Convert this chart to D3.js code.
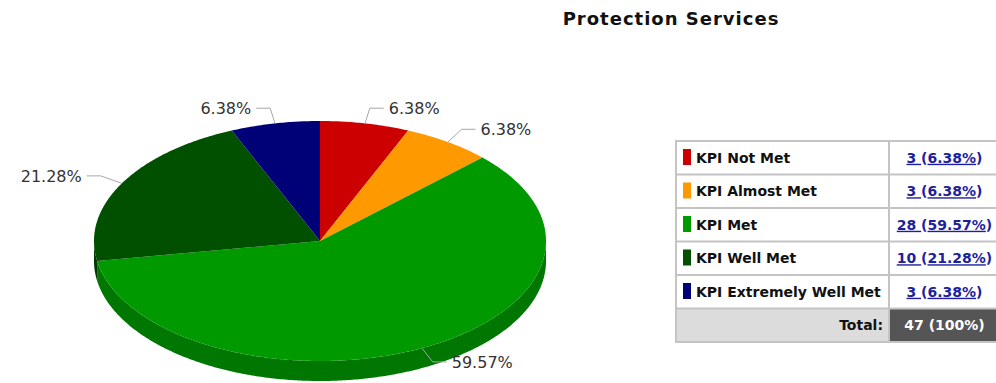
<!DOCTYPE html>
<html>
<head>
<meta charset="utf-8">
<script src="https://cdn.jsdelivr.net/npm/d3@7/dist/d3.min.js"></script>
<style>
  html, body { margin: 0; padding: 0; background: #fff; overflow: hidden; }
  svg { display: block; }
</style>
</head>
<body>
<svg id="chart" width="996" height="383"></svg>
<script>
// ---- data ----
const title = "Protection Services";
const categories = ["KPI Not Met", "KPI Almost Met", "KPI Met", "KPI Well Met", "KPI Extremely Well Met"];
const counts = [3, 3, 28, 10, 3];
const totalLabel = "Total:";

// ---- style ----
const colors = ["#cc0000", "#ff9900", "#009900", "#005000", "#000077"];
const sideColors = ["#990000", "#c07000", "#007700", "#003800", "#000050"];

const svg = d3.select("#chart");
const font = "'DejaVu Sans', Verdana, sans-serif";
const total = d3.sum(counts);
const pctText = v => (v / total * 100).toFixed(2) + "%";

// title
svg.append("text")
  .attr("x", 671).attr("y", 25)
  .attr("text-anchor", "middle")
  .attr("font-family", font).attr("font-weight", "bold")
  .attr("font-size", 18).attr("letter-spacing", 1)
  .attr("fill", "#111")
  .text(title);

// ---- pie ----
const cx = 320, cy = 241, rx = 226, ry = 120, depth = 20;
const pie = d3.pie().sort(null).value(d => d.v).startAngle(0).endAngle(2 * Math.PI);
const arcs = pie(counts.map((v, i) => ({ v, i })));
const pt = (a, dy = 0) => [cx + rx * Math.sin(a), cy - ry * Math.cos(a) + dy];
const sample = (a0, a1, dy = 0) => {
  const n = Math.max(2, Math.ceil((a1 - a0) / 0.01));
  return d3.range(n + 1).map(k => pt(a0 + (a1 - a0) * k / n, dy));
};
const line = d3.line();

const g = svg.append("g");
// sides
arcs.forEach(a => {
  const s0 = Math.max(a.startAngle, Math.PI / 2), s1 = Math.min(a.endAngle, 3 * Math.PI / 2);
  if (s1 > s0) {
    const pts = sample(s0, s1).concat(sample(s0, s1, depth).reverse());
    g.append("path").attr("d", line(pts) + "Z").attr("fill", sideColors[a.data.i]);
  }
});
// tops
arcs.forEach(a => {
  const pts = [[cx, cy]].concat(sample(a.startAngle, a.endAngle));
  g.append("path").attr("d", line(pts) + "Z").attr("fill", colors[a.data.i]);
});

// labels
arcs.forEach(a => {
  const m = (a.startAngle + a.endAngle) / 2;
  const p = pt(m);
  const e = [p[0] + 24 * Math.sin(m), p[1] - 15.5 * Math.cos(m)];
  const dir = Math.sin(m) >= 0 ? 1 : -1;
  const q = [e[0] + dir * 14, e[1]];
  g.append("path").attr("d", line([p, e, q]))
    .attr("fill", "none").attr("stroke", "#a8a8a8").attr("stroke-width", 1);
  g.append("text")
    .attr("x", q[0] + dir * 5).attr("y", q[1] + 6)
    .attr("text-anchor", dir > 0 ? "start" : "end")
    .attr("font-family", font).attr("font-size", 16)
    .attr("fill", "#333")
    .text(pctText(a.data.v));
});

// ---- table legend ----
const tx0 = 676, tx1 = 889, tx2 = 1002;
const rows = categories.concat([totalLabel]);
const y = d3.scaleBand().domain(d3.range(rows.length)).range([141, 342]);
const bw = y.bandwidth();
const tg = svg.append("g");

// total row backgrounds
const lastY = y(rows.length - 1);
tg.append("rect").attr("x", tx0).attr("y", lastY).attr("width", tx1 - tx0).attr("height", bw).attr("fill", "#dcdcdc");
tg.append("rect").attr("x", tx1).attr("y", lastY).attr("width", tx2 - tx1).attr("height", bw).attr("fill", "#555555");

categories.forEach((c, i) => {
  const ry0 = y(i);
  tg.append("rect").attr("x", 683).attr("y", ry0 + 8).attr("width", 8).attr("height", 16).attr("fill", colors[i]);
  tg.append("text").attr("x", 696).attr("y", ry0 + bw / 2 + 5)
    .attr("font-family", font).attr("font-weight", "bold").attr("font-size", 14)
    .attr("fill", "#111").text(c);
  const t = tg.append("text").attr("x", (tx1 + tx2) / 2 - 1).attr("y", ry0 + bw / 2 + 5)
    .attr("text-anchor", "middle")
    .attr("font-family", font).attr("font-weight", "bold").attr("font-size", 14)
    .attr("fill", "#1f1f9e");
  t.append("tspan").attr("text-decoration", "underline").text(counts[i] + " ");
  t.append("tspan").text("(");
  t.append("tspan").attr("text-decoration", "underline").text(pctText(counts[i]));
  t.append("tspan").text(")");
});

// total text
tg.append("text").attr("x", 883).attr("y", lastY + bw / 2 + 5)
  .attr("text-anchor", "end")
  .attr("font-family", font).attr("font-weight", "bold").attr("font-size", 14)
  .attr("fill", "#111").text(totalLabel);
tg.append("text").attr("x", (tx1 + tx2) / 2 - 1).attr("y", lastY + bw / 2 + 5)
  .attr("text-anchor", "middle")
  .attr("font-family", font).attr("font-weight", "bold").attr("font-size", 14)
  .attr("fill", "#fff").text(total + " (100%)");

// grid lines
const gridColor = "#c4c4c4";
d3.range(rows.length + 1).forEach(k => {
  const yy = k < rows.length ? y(k) : y(rows.length - 1) + bw;
  tg.append("line").attr("x1", tx0).attr("x2", tx2).attr("y1", yy).attr("y2", yy)
    .attr("stroke", gridColor).attr("stroke-width", 2);
});
[tx0, tx1, tx2].forEach(xx => {
  tg.append("line").attr("x1", xx).attr("x2", xx).attr("y1", 140).attr("y2", 343)
    .attr("stroke", gridColor).attr("stroke-width", 2);
});
</script>
</body>
</html>
